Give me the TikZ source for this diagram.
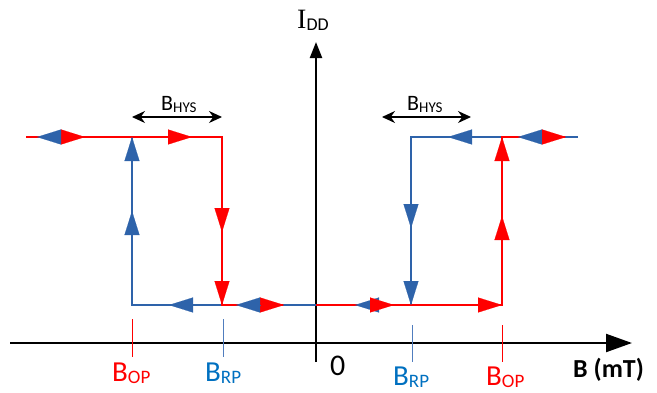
\documentclass[tikz,border=0pt]{standalone}
\usepackage{fontspec}
\setmainfont{Carlito}
\newfontfamily\seriffont{Liberation Serif}
\usetikzlibrary{arrows.meta}
\definecolor{hred}{RGB}{255,0,0}
\definecolor{hblue}{RGB}{46,99,170}
\definecolor{lblue}{RGB}{0,112,192}
\definecolor{tblue}{RGB}{80,125,190}
\newcommand{\lsub}[2]{\raisebox{-2pt}{\fontsize{#1}{#1}\selectfont #2}}

\begin{document}
\begin{tikzpicture}[x=1pt, y=-1pt,
	axis/.style = {draw=black, line width=2.2pt},
	redline/.style = {draw=hred, line width=2pt},
	blueline/.style = {draw=hblue, line width=2pt},
	redmark/.style = {hred, line width=0.1pt, -{Triangle[length=24pt,width=15pt]}},
	bluemark/.style = {hblue, line width=0.1pt, -{Triangle[length=24pt,width=15pt]}},
	tick/.style = {line width=1pt},
	hys/.style = {draw=black, line width=1.2pt, {Stealth[length=13pt,width=12pt]}-{Stealth[length=13pt,width=12pt]}},
	lab/.style = {inner sep=0pt, anchor=base west, font=\fontsize{29}{30}\selectfont}]
	\useasboundingbox (0,0) rectangle (657,392);

	% axes
	\coordinate (xs) at (10,343);
	\coordinate (xe) at (632,343);
	\coordinate (ys) at (316,362);
	\coordinate (ye) at (316,42);
	\draw[axis, -{Triangle[length=26pt,width=18pt]}] (xs) -- (xe);
	\draw[axis, -{Triangle[length=16pt,width=12pt]}] (ys) -- (ye);

	% corners of the two loops
	\coordinate (tl) at (26,137);
	\coordinate (lb) at (132,137);
	\coordinate (lr) at (222,137);
	\coordinate (bl) at (132,305);
	\coordinate (br) at (222,305);
	\coordinate (bz) at (316,305);
	\coordinate (rb) at (411,305);
	\coordinate (rr) at (502,305);
	\coordinate (tb) at (411,137);
	\coordinate (tr) at (502,137);
	\coordinate (te) at (578,137);

	% blue path (decreasing B)
	\draw[blueline] (te) -- (tb) -- (rb) -- (bl) -- (lb) -- (tl);
	% red path (increasing B)
	\draw[redline] (tl) -- (lr) -- (br) -- (283,305);
	\draw[redline] (bz) -- (rr) -- (tr) -- (565,137);

	% direction marks
	\draw[redmark]  (61,137) -- (85,137);
	\draw[bluemark] (60,137) -- (37,137);
	\draw[redmark]  (168,137) -- (192,137);
	\draw[bluemark] (132,161) -- (132,137);
	\draw[bluemark] (132,235) -- (132,211);
	\draw[redmark]  (222,208) -- (222,232);
	\draw[redmark]  (222,281) -- (222,305);
	\draw[bluemark] (193,305) -- (169,305);
	\draw[redmark]  (260,305) -- (284,305);
	\draw[bluemark] (260,305) -- (236,305);
	\draw[bluemark] (378,305) -- (355,305);
	\draw[redmark]  (370,305) -- (394,305);
	\draw[bluemark] (411,281) -- (411,305);
	\draw[redmark]  (478,305) -- (502,305);
	\draw[redmark]  (502,240) -- (502,216);
	\draw[bluemark] (411,204) -- (411,228);
	\draw[redmark]  (502,161) -- (502,137);
	\draw[bluemark] (472,137) -- (448,137);
	\draw[bluemark] (542,137) -- (518,137);
	\draw[redmark]  (542,137) -- (566,137);

	% hysteresis widths
	\coordinate (h1) at (132,117);
	\coordinate (h2) at (222,117);
	\coordinate (h3) at (382,117);
	\coordinate (h4) at (471,117);
	\draw[hys] (h1) -- (h2);
	\draw[hys] (h3) -- (h4);
	\node (hl) [lab, font=\fontsize{22}{24}\selectfont] at (161,110) {B\lsub{15}{HYS}};
	\node (hr) [lab, font=\fontsize{22}{24}\selectfont] at (407,110) {B\lsub{15}{HYS}};

	% ticks
	\draw[tick, hred]  (132,319) -- (132,357);
	\draw[tick, tblue] (223,319) -- (223,357);
	\draw[tick, tblue] (412,325) -- (412,362);
	\draw[tick, hred]  (502,325) -- (502,362);

	% labels
	\node (op1) [lab, text=hred]  at (112,381) {B\lsub{19}{OP}};
	\node (rp1) [lab, text=lblue] at (205,381) {B\lsub{19}{RP}};
	\node (rp2) [lab, text=lblue] at (393,385) {B\lsub{19}{RP}};
	\node (op2) [lab, text=hred]  at (486,385) {B\lsub{19}{OP}};
	\node (zero) [lab, font=\fontsize{30}{32}\selectfont] at (330,375) {0};
	\node (bunit) [lab, font=\fontsize{26}{28}\selectfont\bfseries] at (573,377) {B (mT)};
	\node (idd) [lab, font=\fontsize{28}{30}\selectfont] at (297,28) {{\seriffont I}\lsub{18}{DD}};
\end{tikzpicture}
\end{document}
